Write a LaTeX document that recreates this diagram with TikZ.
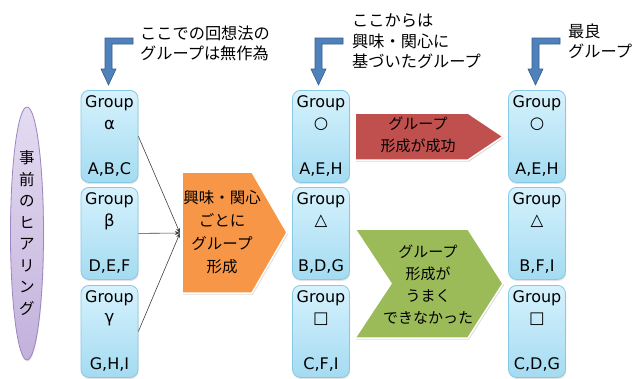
\documentclass[tikz,border=0pt]{standalone}
\usepackage{fontspec}
\setmainfont{DejaVu Sans}
\newfontfamily\jp{Noto Sans CJK JP}
\usetikzlibrary{shadows,arrows.meta,shapes.geometric}
\definecolor{boxT}{HTML}{D6F2FD}
\definecolor{boxB}{HTML}{A4DBF1}
\definecolor{boxL}{HTML}{86C9E5}
\definecolor{ellT}{HTML}{E4DCF1}
\definecolor{ellB}{HTML}{C2B1DC}
\definecolor{ellL}{HTML}{9C86C2}
\definecolor{orangeF}{HTML}{F79646}
\definecolor{redF}{HTML}{C0504D}
\definecolor{greenF}{HTML}{9BBB59}
\definecolor{blueF}{HTML}{4F81BD}
\definecolor{blueL}{HTML}{385D8A}
\tikzset{
  grpbox/.style={draw=boxL, line width=0.8pt, rounded corners=8pt,
    top color=boxT, bottom color=boxB, minimum width=57pt, minimum height=92pt,
    inner sep=0pt, drop shadow={opacity=0.22, shadow xshift=0.6pt, shadow yshift=-1.6pt}},
  grptxt/.style={font=\fontsize{16}{18}\selectfont, inner sep=0pt, text=black},
  symtxt/.style={font=\fontsize{16.5}{18}\selectfont, inner sep=0pt, text=black},
  jptxt/.style={font=\jp\fontsize{15}{22}\selectfont, align=center, inner sep=0pt, text=black},
  calltxt/.style={font=\jp\fontsize{16.2}{20.5}\selectfont, align=left, inner sep=0pt, anchor=west, text=black},
  blockarrow/.style={draw=white, line width=1.5pt, line join=miter,
    drop shadow={opacity=0.3, shadow xshift=1pt, shadow yshift=-1.5pt}},
  callarrow/.style={fill=blueF, draw=blueL, line width=0.6pt, line join=miter},
  conn/.style={draw=black!75, line width=0.6pt, -{Stealth[length=5pt,width=4pt]}}
}
\newcommand\grp[5]{%
  \node[grpbox, anchor=north] (#1) at (#2,#3) {};
  \node[grptxt, anchor=base] (#1a) at (#2,{#3+17}) {Group};
  \node[symtxt, anchor=center] (#1b) at (#2,{#3+34.5}) {#4};
  \node[grptxt, anchor=base] (#1c) at (#2,{#3+84}) {#5};
}
\newcommand\callout[3]{% shaft left x, bar right x, name
  \path[callarrow] (#2,38) -- (#1,38) -- (#1,69) -- ({#1-4},69) -- ({#1+3.5},85)
    -- ({#1+11},69) -- ({#1+7},69) -- ({#1+7},44) -- (#2,44) -- cycle;
  \coordinate (#3) at ({#1+3.5},85);
}
\begin{document}
\begin{tikzpicture}[x=1pt,y=-1pt]
\useasboundingbox (0,0) rectangle (632,378);
\fill[white] (0,0) rectangle (632,378);

% left ellipse
\node[ellipse, draw=ellL, line width=0.8pt, top color=ellT, bottom color=ellB,
  minimum width=33pt, minimum height=253pt, inner sep=0pt,
  drop shadow={opacity=0.2, shadow xshift=0.6pt, shadow yshift=-1.5pt}] (ell) at (27,233.5) {};
\node[font=\jp\fontsize{15.5}{21.5}\selectfont, align=center, inner sep=0pt] (elltxt) at (27,233)
  {事\\前\\の\\ヒ\\ア\\リ\\ン\\グ};

% group boxes
\grp{g1}{109.5}{90}{α}{A,B,C}
\grp{g2}{109.5}{187}{β}{D,E,F}
\grp{g3}{109.5}{285}{γ}{G,H,I}
\grp{h1}{321}{90}{○}{A,E,H}
\grp{h2}{321}{187}{△}{B,D,G}
\grp{h3}{321}{285}{□}{C,F,I}
\grp{k1}{537}{90}{○}{A,E,H}
\grp{k2}{537}{187}{△}{B,F,I}
\grp{k3}{537}{285}{□}{C,D,G}

% orange pentagon
\path[blockarrow, fill=orangeF] (182,172) -- (252,172) -- (287,232.5) -- (252,293) -- (182,293) -- cycle;
\node[jptxt, font=\jp\fontsize{15.5}{23}\selectfont] (otxt) at (222,232.5) {興味・関心\\ごとに\\グループ\\形成};
\coordinate (join) at (180,233);

% connectors
\draw[conn] (g1.east) -- (join);
\draw[conn] (g2.east) -- (join);
\draw[conn] (g3.east) -- (join);

% red arrow
\path[blockarrow, fill=redF] (355,113) -- (468,113) -- (503,136.5) -- (468,160) -- (355,160) -- cycle;
\node[jptxt] (rtxt) at (418,134.5) {グループ\\形成が成功};

% green chevron
\path[blockarrow, fill=greenF] (355,229) -- (468,229) -- (503,283.5) -- (468,338) -- (355,338) -- (391,283.5) -- cycle;
\node[jptxt, font=\jp\fontsize{15}{22}\selectfont] (gtxt) at (428,285) {グループ\\形成が\\うまく\\できなかった};

% callouts
\callout{105}{133}{c1}
\callout{315}{343}{c2}
\callout{532}{560}{c3}
\node[calltxt] (t1) at (140,43.5) {ここでの回想法の\\グループは無作為};
\node[calltxt] (t2) at (352,41.5) {ここからは\\興味・関心に\\基づいたグループ};
\node[calltxt] (t3) at (568,41) {最良\\グループ};
\end{tikzpicture}
\end{document}
